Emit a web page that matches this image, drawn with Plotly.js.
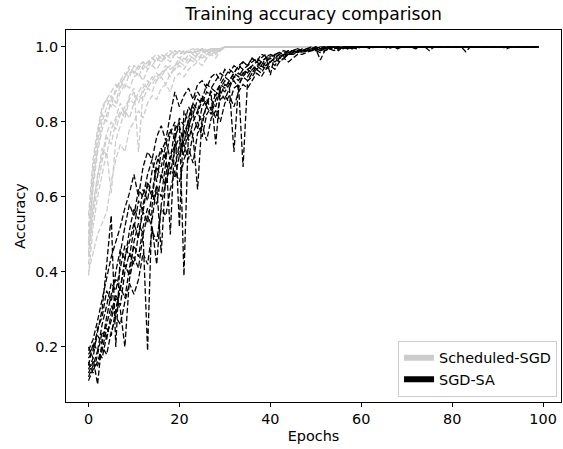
<!DOCTYPE html>
<html>
<head>
<meta charset="utf-8">
<script src="https://cdn.plot.ly/plotly-3.0.1.min.js"></script>
<style>html,body{margin:0;padding:0;background:#fff}#chart{width:563px;height:449px}</style>
</head>
<body>
<div id="chart"></div>
<script>
// Scheduled-SGD runs (training accuracy per epoch, epochs 0..99)
const sched1 = [0.55,0.70,0.78,0.84,0.86,0.88,0.90,0.89,0.92,0.94, 0.93,0.95,0.94,0.96,0.97,0.96,0.98,0.97,0.98,0.99, 0.98,0.99,0.985,0.99,0.98,0.995,0.99,0.995,0.99,0.995,
 1,1,1,1,1,1,1,1,1,1, 1,1,1,1,1,1,1,1,1,1, 1,1,1,1,1,1,1,1,1,1, 1,1,1,1,1,1,1,1,1,1, 1,1,1,1,1,1,1,1,1,1, 1,1,1,1,1,1,1,1,1,1, 1,1,1,1,1,1,1,1,1,1];
const sched2 = [0.48,0.62,0.72,0.78,0.82,0.85,0.84,0.88,0.90,0.89, 0.92,0.93,0.91,0.94,0.95,0.94,0.96,0.97,0.96,0.98, 0.97,0.98,0.99,0.98,0.99,0.985,0.99,0.995,0.99,0.995,
 1,1,1,1,1,1,1,1,1,1, 1,1,1,1,1,1,1,1,1,1, 1,1,1,1,1,1,1,1,1,1, 1,1,1,1,1,1,1,1,1,1, 1,1,1,1,1,1,1,1,1,1, 1,1,1,1,1,1,1,1,1,1, 1,1,1,1,1,1,1,1,1,1];
const sched3 = [0.42,0.55,0.63,0.70,0.76,0.74,0.80,0.83,0.81,0.86, 0.88,0.85,0.89,0.91,0.90,0.92,0.93,0.94,0.92,0.95, 0.96,0.95,0.97,0.96,0.98,0.97,0.98,0.99,0.985,0.99,
 1,1,1,1,1,1,1,1,1,1, 1,1,1,1,1,1,1,1,1,1, 1,1,1,1,1,1,1,1,1,1, 1,1,1,1,1,1,1,1,1,1, 1,1,1,1,1,1,1,1,1,1, 1,1,1,1,1,1,1,1,1,1, 1,1,1,1,1,1,1,1,1,1];
const sched4 = [0.50,0.66,0.75,0.82,0.80,0.86,0.88,0.91,0.89,0.93, 0.94,0.92,0.95,0.96,0.95,0.97,0.96,0.98,0.97,0.98, 0.99,0.98,0.99,0.985,0.99,0.995,0.99,0.995,0.99,0.995,
 1,1,1,1,1,1,1,1,1,1, 1,1,1,1,1,1,1,1,1,1, 1,1,1,1,1,1,1,1,1,1, 1,1,1,1,1,1,1,1,1,1, 1,1,1,1,1,1,1,1,1,1, 1,1,1,1,1,1,1,1,1,1, 1,1,1,1,1,1,1,1,1,1];
const sched5 = [0.45,0.58,0.65,0.73,0.71,0.78,0.81,0.85,0.82,0.87, 0.89,0.72,0.88,0.90,0.92,0.91,0.93,0.95,0.94,0.95, 0.97,0.96,0.98,0.97,0.98,0.99,0.98,0.99,0.985,0.99,
 1,1,1,1,1,1,1,1,1,1, 1,1,1,1,1,1,1,1,1,1, 1,1,1,1,1,1,1,1,1,1, 1,1,1,1,1,1,1,1,1,1, 1,1,1,1,1,1,1,1,1,1, 1,1,1,1,1,1,1,1,1,1, 1,1,1,1,1,1,1,1,1,1];
const sched6 = [0.52,0.68,0.77,0.83,0.86,0.84,0.89,0.91,0.93,0.92, 0.95,0.94,0.96,0.95,0.97,0.98,0.97,0.98,0.99,0.98, 0.99,0.985,0.99,0.995,0.99,0.995,0.99,0.995,0.995,0.99,
 1,1,1,1,1,1,1,1,1,1, 1,1,1,1,1,1,1,1,1,1, 1,1,1,1,1,1,1,1,1,1, 1,1,1,1,1,1,1,1,1,1, 1,1,1,1,1,1,1,1,1,1, 1,1,1,1,1,1,1,1,1,1, 1,1,1,1,1,1,1,1,1,1];
const sched7 = [0.39,0.52,0.60,0.66,0.72,0.61,0.75,0.79,0.83,0.81, 0.85,0.87,0.86,0.89,0.88,0.91,0.92,0.90,0.93,0.94, 0.95,0.94,0.96,0.97,0.96,0.98,0.97,0.99,0.98,0.99,
 1,1,1,1,1,1,1,1,1,1, 1,1,1,1,1,1,1,1,1,1, 1,1,1,1,1,1,1,1,1,1, 1,1,1,1,1,1,1,1,1,1, 1,1,1,1,1,1,1,1,1,1, 1,1,1,1,1,1,1,1,1,1, 1,1,1,1,1,1,1,1,1,1];
const sched8 = [0.47,0.64,0.73,0.80,0.84,0.87,0.85,0.90,0.92,0.95, 0.93,0.95,0.96,0.94,0.97,0.96,0.98,0.97,0.98,0.99, 0.98,0.99,0.985,0.99,0.995,0.99,0.995,0.99,0.995,0.995,
 1,1,1,1,1,1,1,1,1,1, 1,1,1,1,1,1,1,1,1,1, 1,1,1,1,1,1,1,1,1,1, 1,1,1,1,1,1,1,1,1,1, 1,1,1,1,1,1,1,1,1,1, 1,1,1,1,1,1,1,1,1,1, 1,1,1,1,1,1,1,1,1,1];
const sched9 = [0.44,0.57,0.66,0.71,0.77,0.80,0.78,0.82,0.84,0.86, 0.85,0.88,0.90,0.89,0.91,0.93,0.92,0.94,0.95,0.94, 0.96,0.97,0.96,0.98,0.97,0.98,0.99,0.98,0.99,0.99,
 1,1,1,1,1,1,1,1,1,1, 1,1,1,1,1,1,1,1,1,1, 1,1,1,1,1,1,1,1,1,1, 1,1,1,1,1,1,1,1,1,1, 1,1,1,1,1,1,1,1,1,1, 1,1,1,1,1,1,1,1,1,1, 1,1,1,1,1,1,1,1,1,1];
const sched10 = [0.40,0.45,0.50,0.53,0.56,0.64,0.70,0.74,0.72,0.78, 0.80,0.83,0.81,0.85,0.87,0.86,0.89,0.90,0.88,0.92, 0.93,0.92,0.94,0.95,0.96,0.95,0.97,0.98,0.97,0.99,
 1,1,1,1,1,1,1,1,1,1, 1,1,1,1,1,1,1,1,1,1, 1,1,1,1,1,1,1,1,1,1, 1,1,1,1,1,1,1,1,1,1, 1,1,1,1,1,1,1,1,1,1, 1,1,1,1,1,1,1,1,1,1, 1,1,1,1,1,1,1,1,1,1];

// SGD-SA runs
const sa1 = [0.14,0.17,0.10,0.22,0.26,0.31,0.28,0.36,0.42,0.39, 0.48,0.53,0.50,0.19,0.58,0.63,0.60,0.69,0.66,0.73, 0.76,0.71,0.79,0.82,0.78,0.84,0.86,0.83,0.88,0.87,
 0.90,0.89,0.92,0.91,0.93,0.94,0.93,0.95,0.96,0.95, 0.96,0.97,0.97,0.98,0.98,0.985,0.99,0.99,0.99,0.995, 0.995,0.99,0.995,1,0.995,1,1,0.995,1,1,
 1,1,0.995,1,1,1,1,1,0.995,1, 1,1,1,1,1,1,1,1,1,1, 1,1,1,1,1,1,1,1,1,1, 1,1,1,1,1,1,1,1,1,1];
const sa2 = [0.18,0.20,0.24,0.30,0.42,0.55,0.20,0.45,0.52,0.58, 0.55,0.62,0.60,0.66,0.70,0.64,0.72,0.75,0.70,0.78, 0.80,0.39,0.78,0.84,0.82,0.86,0.85,0.88,0.87,0.90,
 0.89,0.91,0.93,0.92,0.94,0.93,0.95,0.96,0.95,0.97, 0.97,0.98,0.975,0.98,0.985,0.99,0.985,0.99,0.995,0.99, 0.995,1,0.995,1,1,0.99,1,1,1,0.995,
 1,1,1,1,1,1,0.995,1,1,1, 1,1,1,1,1,1,1,1,1,1, 1,1,1,1,1,1,1,1,1,1, 1,1,1,1,1,1,1,1,1,1];
const sa3 = [0.12,0.15,0.19,0.17,0.23,0.27,0.33,0.30,0.20,0.38, 0.44,0.41,0.50,0.55,0.52,0.42,0.58,0.64,0.68,0.65, 0.71,0.74,0.70,0.77,0.80,0.76,0.82,0.84,0.81,0.86,
 0.87,0.85,0.89,0.90,0.68,0.91,0.92,0.94,0.93,0.95, 0.96,0.95,0.97,0.97,0.98,0.98,0.985,0.99,0.99,0.99, 0.995,0.99,1,0.995,1,1,0.995,1,1,1,
 1,1,1,1,1,1,1,1,1,1, 1,1,0.995,1,1,1,1,1,1,1, 1,1,1,1,1,1,1,1,1,1, 1,1,1,1,1,1,1,1,1,1];
const sa4 = [0.19,0.22,0.27,0.33,0.38,0.44,0.48,0.52,0.57,0.61, 0.66,0.60,0.68,0.72,0.70,0.76,0.79,0.75,0.82,0.88, 0.84,0.87,0.89,0.86,0.90,0.91,0.89,0.92,0.93,0.91,
 0.94,0.93,0.95,0.94,0.96,0.95,0.97,0.96,0.98,0.975, 0.925,0.98,0.985,0.98,0.99,0.99,0.985,0.995,0.99,0.995, 1,0.995,1,1,0.995,1,1,1,0.995,1,
 1,1,1,1,1,1,1,1,1,1, 1,1,1,1,1,1,1,1,1,1, 1,1,1,1,1,1,1,1,1,1, 1,1,0.995,1,1,1,1,1,1,1];
const sa5 = [0.16,0.13,0.18,0.24,0.22,0.29,0.34,0.31,0.40,0.45, 0.42,0.50,0.56,0.53,0.61,0.58,0.66,0.63,0.70,0.74, 0.71,0.77,0.80,0.76,0.62,0.81,0.84,0.82,0.86,0.88,
 0.86,0.89,0.72,0.90,0.92,0.91,0.93,0.94,0.95,0.94, 0.96,0.97,0.96,0.97,0.98,0.98,0.99,0.985,0.99,0.99, 0.995,0.99,0.995,1,1,0.995,1,1,0.995,1,
 1,1,1,1,1,1,1,1,1,1, 1,1,1,1,1,0.99,1,1,1,1, 1,1,1,1,1,1,1,1,1,1, 1,1,1,1,1,1,1,1,1,1];
const sa6 = [0.20,0.17,0.25,0.28,0.35,0.32,0.40,0.46,0.43,0.51, 0.57,0.54,0.62,0.59,0.67,0.71,0.68,0.74,0.78,0.75, 0.81,0.79,0.84,0.82,0.86,0.85,0.88,0.87,0.74,0.89,
 0.91,0.90,0.92,0.93,0.92,0.94,0.95,0.94,0.96,0.97, 0.96,0.97,0.98,0.975,0.98,0.985,0.99,0.985,0.99,0.99, 0.995,0.965,0.99,0.995,1,0.995,1,1,1,0.995,
 1,1,1,1,1,1,1,1,1,1, 1,1,1,1,1,1,1,1,1,1, 1,1,1,1,1,1,1,1,1,1, 1,1,1,1,1,1,1,1,1,1];
const sa7 = [0.11,0.14,0.16,0.20,0.18,0.24,0.28,0.26,0.32,0.37, 0.34,0.38,0.45,0.42,0.51,0.48,0.57,0.55,0.62,0.67, 0.64,0.70,0.73,0.69,0.77,0.79,0.75,0.81,0.83,0.80,
 0.85,0.87,0.84,0.88,0.90,0.89,0.91,0.93,0.92,0.94, 0.95,0.94,0.96,0.97,0.96,0.97,0.98,0.98,0.985,0.99, 0.99,0.985,0.99,0.995,0.99,0.995,1,0.995,1,1,
 1,1,1,1,1,1,1,1,1,1, 1,1,1,1,1,1,1,1,1,1, 1,1,1,0.987,1,1,1,1,1,1, 1,1,1,1,1,1,1,1,1,1];
const sa8 = [0.17,0.19,0.23,0.21,0.28,0.34,0.38,0.35,0.44,0.48, 0.53,0.49,0.58,0.63,0.60,0.68,0.65,0.72,0.50,0.76, 0.79,0.74,0.81,0.85,0.83,0.87,0.84,0.89,0.88,0.90,
 0.92,0.91,0.93,0.95,0.94,0.95,0.96,0.97,0.96,0.97, 0.98,0.975,0.98,0.985,0.99,0.99,0.995,0.99,0.995,1, 0.995,1,1,0.995,1,1,1,0.995,1,1,
 1,1,1,1,1,1,1,1,1,1, 1,1,1,1,1,1,1,1,1,1, 1,1,1,1,1,1,1,1,1,1, 1,1,1,1,1,1,1,1,1,1];
const sa9 = [0.13,0.16,0.15,0.19,0.25,0.23,0.30,0.36,0.33,0.41, 0.47,0.44,0.52,0.57,0.54,0.63,0.45,0.66,0.71,0.68, 0.74,0.78,0.75,0.80,0.83,0.79,0.85,0.86,0.84,0.89,
 0.88,0.90,0.91,0.89,0.93,0.92,0.94,0.95,0.94,0.96, 0.97,0.96,0.97,0.98,0.98,0.99,0.985,0.99,0.99,0.995, 0.99,0.995,1,0.995,1,0.995,1,1,1,1,
 1,1,1,1,1,1,1,1,1,1, 1,1,1,1,1,1,1,1,1,1, 1,1,1,1,1,1,1,1,1,1, 1,1,1,1,1,1,1,1,1,1];
const sa10 = [0.15,0.21,0.19,0.26,0.31,0.37,0.35,0.41,0.47,0.44, 0.52,0.59,0.56,0.64,0.61,0.69,0.73,0.70,0.77,0.80, 0.52,0.83,0.80,0.85,0.88,0.86,0.90,0.89,0.91,0.93,
 0.92,0.94,0.93,0.95,0.96,0.95,0.97,0.96,0.97,0.98, 0.975,0.98,0.985,0.99,0.985,0.99,0.995,0.99,0.995,0.995, 1,0.995,1,1,1,0.995,1,1,1,1,
 1,1,1,1,1,1,1,1,1,1, 1,1,1,1,1,1,1,1,1,1, 1,1,1,1,1,1,1,1,1,1, 1,1,1,1,1,1,1,1,1,1];

const schedRuns = [sched1,sched2,sched3,sched4,sched5,sched6,sched7,sched8,sched9,sched10];
const saRuns = [sa1,sa2,sa3,sa4,sa5,sa6,sa7,sa8,sa9,sa10];
const seriesNames = ['Scheduled-SGD','SGD-SA'];
const seriesColors = ['#cccccc','#000000'];
const xTicks = [0,20,40,60,80,100];
const yTicks = [0.2,0.4,0.6,0.8,1.0];

const epochsOf = arr => arr.map((_, i) => i);
const dashStyle = '5.5px,2.4px';
const traces = [];
[schedRuns, saRuns].forEach((runs, k) => {
  runs.forEach(r => traces.push({
    type: 'scatter', mode: 'lines', x: epochsOf(r), y: r,
    line: {color: seriesColors[k], width: 1.3, dash: dashStyle},
    showlegend: false, hoverinfo: 'skip'
  }));
});
seriesNames.forEach((n, k) => traces.push({
  type: 'scatter', mode: 'none', x: [null], y: [null], name: n,
  fill: 'toself', fillcolor: seriesColors[k], showlegend: true
}));

const font = {family: 'DejaVu Sans, sans-serif', size: 14.4, color: '#000'};
const layout = {
  width: 563, height: 449,
  margin: {l: 66, r: 2, t: 30, b: 47},
  paper_bgcolor: '#fff', plot_bgcolor: '#fff',
  font: font,
  title: {text: 'Training accuracy comparison', font: {family: 'DejaVu Sans, sans-serif', size: 17.2, color: '#000'},
          x: 0.557, xanchor: 'center', y: 0.968, yanchor: 'middle', yref: 'container'},
  xaxis: {range: [-4.95, 103.95], tickvals: xTicks, ticktext: xTicks.map(String),
          showline: true, mirror: true, linecolor: '#000', linewidth: 1,
          ticks: 'outside', ticklen: 4, tickwidth: 1, tickcolor: '#000',
          showgrid: false, zeroline: false, tickfont: font,
          title: {text: 'Epochs', font: font, standoff: 4}},
  yaxis: {range: [0.053, 1.045], tickvals: yTicks, ticktext: yTicks.map(v => v.toFixed(1)),
          showline: true, mirror: true, linecolor: '#000', linewidth: 1,
          ticks: 'outside', ticklen: 4, tickwidth: 1, tickcolor: '#000',
          showgrid: false, zeroline: false, tickfont: font,
          title: {text: 'Accuracy', font: font, standoff: 6}},
  legend: {x: 0.992, y: 0.014, xanchor: 'right', yanchor: 'bottom',
           bgcolor: 'rgba(255,255,255,0.8)', bordercolor: '#cccccc', borderwidth: 1,
           font: font, tracegroupgap: 0, itemwidth: 30},
  showlegend: true
};
Plotly.newPlot('chart', traces, layout, {staticPlot: true, displayModeBar: false});
</script>
</body>
</html>
